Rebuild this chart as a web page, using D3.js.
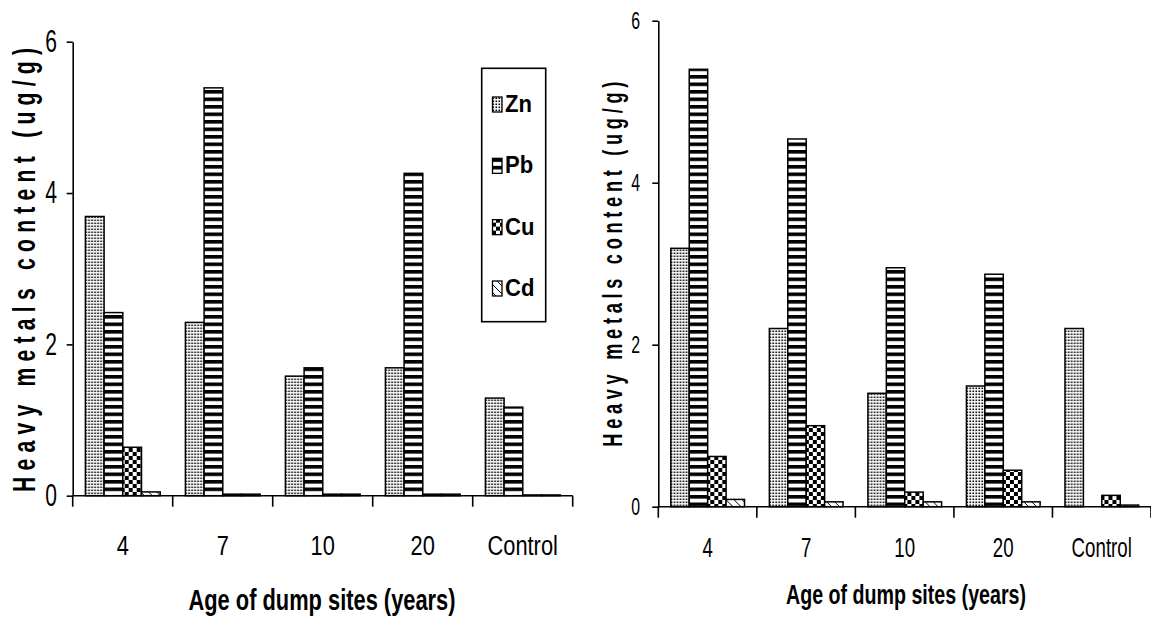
<!DOCTYPE html>
<html>
<head>
<meta charset="utf-8">
<script src="https://cdn.jsdelivr.net/npm/d3@7"></script>
<style>
  html, body { margin: 0; padding: 0; background: #fff; }
  svg { display: block; }
  text { font-family: "Liberation Sans", Arial, sans-serif; fill: #000; }
</style>
</head>
<body>
<svg id="chart" width="1151" height="619"></svg>
<script>
// ---------------- data ----------------
const categories = ["4", "7", "10", "20", "Control"];
const metals = ["Zn", "Pb", "Cu", "Cd"];
const yTicks = [0, 2, 4, 6];

// Left panel
const leftZn = [3.69, 2.29, 1.58, 1.69, 1.29];
const leftPb = [2.42, 5.39, 1.69, 4.26, 1.17];
const leftCu = [0.64, 0.02, 0.02, 0.02, 0.01];
const leftCd = [0.05, 0.02, 0.02, 0.02, 0.01];

// Right panel
const rightZn = [3.19, 2.20, 1.40, 1.49, 2.20];
const rightPb = [5.40, 4.54, 2.95, 2.87, 0];
const rightCu = [0.62, 1.00, 0.18, 0.45, 0.14];
const rightCd = [0.09, 0.06, 0.06, 0.06, 0.02];

const yLabel = "Heavy metals content (ug/g)";
const xLabel = "Age of dump sites (years)";

// ---------------- patterns ----------------
const svg = d3.select("#chart");
const defs = svg.append("defs");
function mkPattern(id, w, h, draw) {
  const p = defs.append("pattern").attr("id", id).attr("patternUnits", "userSpaceOnUse")
    .attr("width", w).attr("height", h);
  p.append("rect").attr("width", w).attr("height", h).attr("fill", "#fff");
  draw(p);
}
mkPattern("pZn", 3, 3, p => p.append("rect").attr("x", 0.5).attr("y", 0.5).attr("width", 1.6).attr("height", 1.6).attr("fill", "#000"));
mkPattern("pPb", 8, 7.5, p => p.append("rect").attr("x", 0).attr("y", 0).attr("width", 8).attr("height", 3.6).attr("fill", "#000"));
mkPattern("pCu", 8, 8, p => {
  p.append("rect").attr("x", 0).attr("y", 0).attr("width", 4).attr("height", 4).attr("fill", "#000");
  p.append("rect").attr("x", 4).attr("y", 4).attr("width", 4).attr("height", 4).attr("fill", "#000");
});
mkPattern("pCd", 8, 8, p => p.append("path").attr("d", "M0,0 L8,8").attr("stroke", "#000").attr("stroke-width", 1));
const fills = { Zn: "url(#pZn)", Pb: "url(#pPb)", Cu: "url(#pCu)", Cd: "url(#pCd)" };

// ---------------- helpers ----------------
function condensedText(parent, x, y, str, o) {
  const g = parent.append("g")
    .attr("transform", `translate(${x},${y}) rotate(${o.rotate || 0}) scale(${o.sx || 1},1)`);
  const t = g.append("text").text(str)
    .attr("text-anchor", o.anchor || "start")
    .style("font-size", o.size + "px")
    .style("font-weight", o.weight || "normal");
  if (o.length) t.attr("textLength", o.length / (o.sx || 1)).attr("lengthAdjust", o.adjust || "spacing");
  return t;
}

function drawPanel(cfg) {
  const g = svg.append("g");
  const rows = categories.map((c, i) => ({
    cat: c,
    vals: metals.map(m => ({ m, v: cfg.data[m][i] }))
  }));
  const x = d3.scaleBand().domain(categories).range([cfg.x0, cfg.x1]).padding(0);
  const step = x.step();
  const xi = d3.scaleBand().domain(metals).range([step * 0.127, step * 0.875]).padding(0);
  const y = d3.scaleLinear().domain([0, 6]).range([cfg.y0, cfg.y1]);

  // bars
  const grp = g.selectAll("g.grp").data(rows).join("g")
    .attr("transform", d => `translate(${x(d.cat)},0)`);
  grp.selectAll("rect").data(d => d.vals.filter(v => v.v > 0)).join("rect")
    .attr("x", d => xi(d.m))
    .attr("width", xi.bandwidth())
    .attr("y", d => y(d.v))
    .attr("height", d => y(0) - y(d.v))
    .attr("fill", d => fills[d.m])
    .attr("stroke", "#000")
    .attr("stroke-width", 1.5);

  // y axis
  const ya = g.append("g").attr("transform", `translate(${cfg.x0},0)`)
    .call(d3.axisLeft(y).tickValues(yTicks).tickFormat(d3.format("d")).tickSize(6).tickSizeOuter(0));
  ya.select(".domain").attr("stroke-width", 1.6);
  ya.selectAll(".tick line").attr("stroke-width", 1.6);
  ya.selectAll(".tick text")
    .attr("x", -cfg.yTickGap / cfg.yTickSx)
    .attr("transform", `scale(${cfg.yTickSx},1)`)
    .style("font-size", cfg.yTickSize + "px")
    .style("font-family", '"Liberation Sans", Arial, sans-serif');

  // x axis (labels at band centres, ticks at boundaries)
  const xa = g.append("g").attr("transform", `translate(0,${cfg.y0})`)
    .call(d3.axisBottom(x).tickSize(0).tickSizeOuter(0));
  xa.select(".domain").attr("stroke-width", 1.6).attr("d", `M${cfg.x0},0H${cfg.x1}`);
  xa.selectAll(".tick text")
    .attr("y", cfg.xLabelBase - cfg.y0).attr("dy", 0)
    .attr("transform", `scale(${cfg.xTickSx},1)`)
    .style("font-size", cfg.xTickSize + "px")
    .style("font-family", '"Liberation Sans", Arial, sans-serif');
  const bounds = categories.map(c => x(c)).concat([cfg.x1]);
  xa.selectAll("line.bound").data(bounds).join("line").attr("class", "bound")
    .attr("x1", d => d).attr("x2", d => d).attr("y1", 0).attr("y2", 11)
    .attr("stroke", "#000").attr("stroke-width", 1.6);

  // axis titles
  condensedText(g, cfg.yTitleX, cfg.yTitleY, yLabel,
    { rotate: -90, sx: cfg.yTitleSx, size: cfg.yTitleSize, weight: "bold", length: cfg.yTitleLen });
  svg.append("text").text(xLabel)
    .attr("x", cfg.xTitleX).attr("y", cfg.xTitleY)
    .attr("text-anchor", "middle")
    .attr("textLength", cfg.xTitleLen).attr("lengthAdjust", "spacingAndGlyphs")
    .style("font-size", cfg.xTitleSize + "px").style("font-weight", "bold");
  return g;
}

drawPanel({
  data: { Zn: leftZn, Pb: leftPb, Cu: leftCu, Cd: leftCd },
  x0: 72.7, x1: 572.7, y0: 495.7, y1: 41.7,
  yTickGap: 15.7, yTickSx: 0.68, yTickSize: 31,
  xLabelBase: 555, xTickSx: 0.78, xTickSize: 28,
  yTitleX: 35, yTitleY: 492, yTitleSx: 0.66, yTitleSize: 32, yTitleLen: 444,
  xTitleX: 322, xTitleY: 610, xTitleLen: 267, xTitleSize: 30
});

drawPanel({
  data: { Zn: rightZn, Pb: rightPb, Cu: rightCu, Cd: rightCd },
  x0: 658.3, x1: 1151, y0: 506.7, y1: 20.7,
  yTickGap: 18.3, yTickSx: 0.66, yTickSize: 24,
  xLabelBase: 556.7, xTickSx: 0.68, xTickSize: 27.5,
  yTitleX: 621.7, yTitleY: 446.7, yTitleSx: 0.65, yTitleSize: 28, yTitleLen: 365,
  xTitleX: 906, xTitleY: 604, xTitleLen: 240, xTitleSize: 27.5
});

// ---------------- legend (left panel) ----------------
const lg = svg.append("g");
lg.append("rect").attr("x", 481.7).attr("y", 68.3).attr("width", 64).attr("height", 253.4)
  .attr("fill", "#fff").attr("stroke", "#000").attr("stroke-width", 1.6);
const legendY = d3.scalePoint().domain(metals).range([112, 296]);
const li = lg.selectAll("g.li").data(metals).join("g").attr("class", "li")
  .attr("transform", d => `translate(0,${legendY(d)})`);
li.append("rect").attr("x", 492.5).attr("y", -15).attr("width", 9.5).attr("height", 15)
  .attr("fill", d => fills[d]).attr("stroke", "#000").attr("stroke-width", 1.3);
li.append("g").attr("transform", "translate(505,0) scale(0.92,1)")
  .append("text").text(d => d).attr("x", 0).attr("y", 0)
  .style("font-size", "24px").style("font-weight", "bold");
</script>
</body>
</html>
